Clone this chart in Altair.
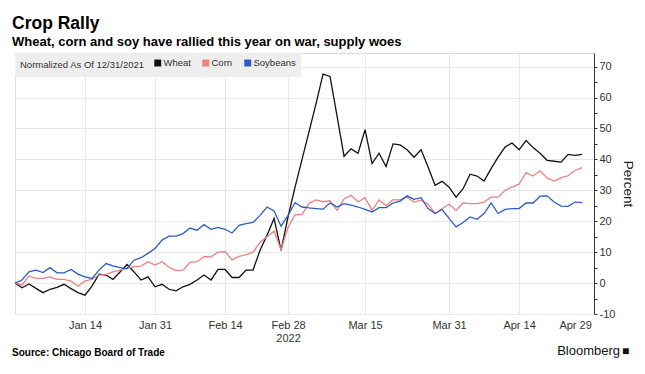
import json
import altair as alt
import pandas as pd

# ---- data (trading-day index since 12/31/2021) ----
series_names = ["Wheat", "Corn", "Soybeans"]
series_colors = ["#111111", "#ee8080", "#2b5cc6"]

wheat = [0, -1.5, -0.3, -1.7, -3.1, -2, -1.4, -0.4, -1.8, -3.1,
         -3.9, -1, 2.9, 2.6, 1.2, 3.6, 6, 3.6, 1, 2,
         -1.2, -0.4, -2, -2.5, -1.2, -0.4, 1, 2.6, 1, 4.4,
         4.4, 1.8, 1.8, 4.2, 4.2, 10.6, 15.5, 20.9, 10.6, 21.4,
         31, 40, 49, 58, 67.6, 66.8, 54, 41, 43.4, 42,
         49.6, 38.6, 42, 37.7, 45, 44.7, 43.1, 40.7, 43.1, 37.5,
         31.6, 32.9, 31, 27.8, 30.5, 35.2, 34.6, 33, 37, 40.7,
         44, 45.3, 43.1, 46.1, 43.8, 42, 39.7, 39.4, 39.1, 41.6,
         41.3, 41.6]
corn = [0, -0.6, 2.3, 1.5, 1.5, 2, 1.2, 1.2, 0.6, -1,
        0.7, 1.2, 2.6, 2.8, 3.6, 4.2, 4.7, 5.3, 5.5, 6.9,
        5.8, 6.9, 5.1, 4, 4.2, 6.7, 6.9, 8.6, 8.5, 10,
        10.2, 7.5, 8.6, 9.2, 10, 13.2, 15, 16.8, 10.8, 18,
        22.1, 22.2, 25.8, 26.9, 26.3, 26.6, 23.5, 27.2, 28.4, 26.2,
        27.6, 23.5, 26.9, 25, 27, 26.9, 27.8, 26.2, 26.8, 25.5,
        22.5, 24.1, 25.5, 23.5, 25.9, 25.7, 25.7, 26.2, 27.8, 27.8,
        30, 31, 32, 35.7, 34.6, 36.3, 34, 33, 34.1, 34.7,
        36.4, 37.3]
soy = [0, 1, 3.6, 4.2, 3.4, 5, 3.3, 3.3, 4.4, 2.9,
       2, 1.5, 4.2, 6.3, 5.6, 5, 4.7, 7.4, 8.2, 9.6,
       11.2, 13.9, 15.2, 15.2, 16, 17.8, 17.1, 18.9, 17.4, 18,
       17.4, 16.2, 18.7, 19.2, 19.6, 21.9, 24.6, 23.3, 18.4, 21.9,
       26, 24.6, 24.3, 24.1, 23.9, 25.9, 24.6, 25.7, 25.2, 24.6,
       23.8, 23, 24.4, 24.4, 25.9, 26.5, 28.2, 27.1, 27.6, 24.1,
       22.5, 23.8, 20.9, 18.2, 19.6, 21.4, 20.6, 22.5, 25.9, 22.5,
       23.8, 24.1, 24.1, 25.9, 25.9, 28.1, 28.2, 26.2, 24.9, 24.8,
       26.2, 26]

tick_idx = [10, 20, 30, 39, 50, 62, 72, 80]
tick_labels = ["Jan 14", "Jan 31", "Feb 14", ["Feb 28", "2022"],
               "Mar 15", "Mar 31", "Apr 14", "Apr 29"]
y_ticks = list(range(-10, 75, 5))

FONT = "Liberation Sans"

n = len(wheat)
df = pd.DataFrame({
    "idx": list(range(n)) * 3,
    "series": ["Wheat"] * n + ["Corn"] * n + ["Soybeans"] * n,
    "value": wheat + corn + soy,
})

x_label_expr = f"{json.dumps(tick_labels)}[indexof({json.dumps(tick_idx)}, datum.value)]"

lines = alt.Chart(df).mark_line(strokeWidth=1.3).encode(
    x=alt.X(
        "idx:Q",
        scale=alt.Scale(domain=[0, 82.7], nice=False, zero=False),
        axis=alt.Axis(
            values=tick_idx, labelExpr=x_label_expr, title=None,
            ticks=False, domain=False, labelFont=FONT, labelFontSize=11,
            labelColor="#333333", labelPadding=5, labelLineHeight=13,
            labelFlush=False, labelOverlap=False,
            gridColor={"condition": {"test": "datum.value == 80", "value": "transparent"},
                       "value": "#e8e8e8"},
        ),
    ),
    y=alt.Y(
        "value:Q",
        scale=alt.Scale(domain=[-10, 74.4], nice=False, zero=False),
        axis=alt.Axis(
            orient="right", values=y_ticks,
            labelExpr="datum.value % 10 == 0 ? '' + datum.value : ''",
            title="Percent", titleFont=FONT, titleFontSize=13.5,
            titleFontWeight="normal", titleColor="#222222", titlePadding=6,
            labelFont=FONT, labelFontSize=11, labelColor="#333333",
            labelPadding=2, tickSize=3, tickColor="#333333",
            domainColor="#333333", labelFlush=False,
            gridColor={"condition": {"test": "datum.value % 10 != 0", "value": "transparent"},
                       "value": "#e8e8e8"},
        ),
    ),
    color=alt.Color(
        "series:N",
        scale=alt.Scale(domain=series_names, range=series_colors),
        legend=alt.Legend(
            orient="top-left", offset=0, direction="horizontal",
            title="Normalized As Of 12/31/2021", titleOrient="left",
            titleFont=FONT, titleFontSize=9.5, titleFontWeight="normal",
            titleColor="#333333", titlePadding=8,
            labelFont=FONT, labelFontSize=9.5, labelColor="#333333",
            labelOffset=1, columnPadding=6,
            fillColor="#eeeeee", padding=5,
            symbolType="square", symbolSize=12, symbolStrokeWidth=3.5,
        ),
    ),
)

one = pd.DataFrame({"a": [0]})


def note(text, x, y, size, weight="normal", align="left", color="#000000"):
    return alt.Chart(one).mark_text(
        text=text, align=align, baseline="alphabetic", font=FONT,
        fontSize=size, fontWeight=weight, color=color,
    ).encode(x=alt.value(x), y=alt.value(y))


title = note("Crop Rally", -3, -24, 17.5, "bold")
subtitle = note("Wheat, corn and soy have rallied this year on war, supply woes", -3, -7, 13, "bold")
source = note("Source: Chicago Board of Trade", -3, 303, 10, "bold")
brand = note("Bloomberg", 605, 302, 13, "normal", "right", "#111111")
icon = note("\u25A0", 607, 302, 12, "normal", "left", "#111111")

chart = alt.layer(lines, title, subtitle, source, brand, icon).properties(
    width=579, height=261,
    padding={"left": 7, "top": 45, "right": 43, "bottom": 50},
    autosize=alt.AutoSizeParams(type="none"),
).configure_view(strokeWidth=0).configure(background="white")

chart.save("out.html", embed_options={"renderer": "svg", "actions": False})
